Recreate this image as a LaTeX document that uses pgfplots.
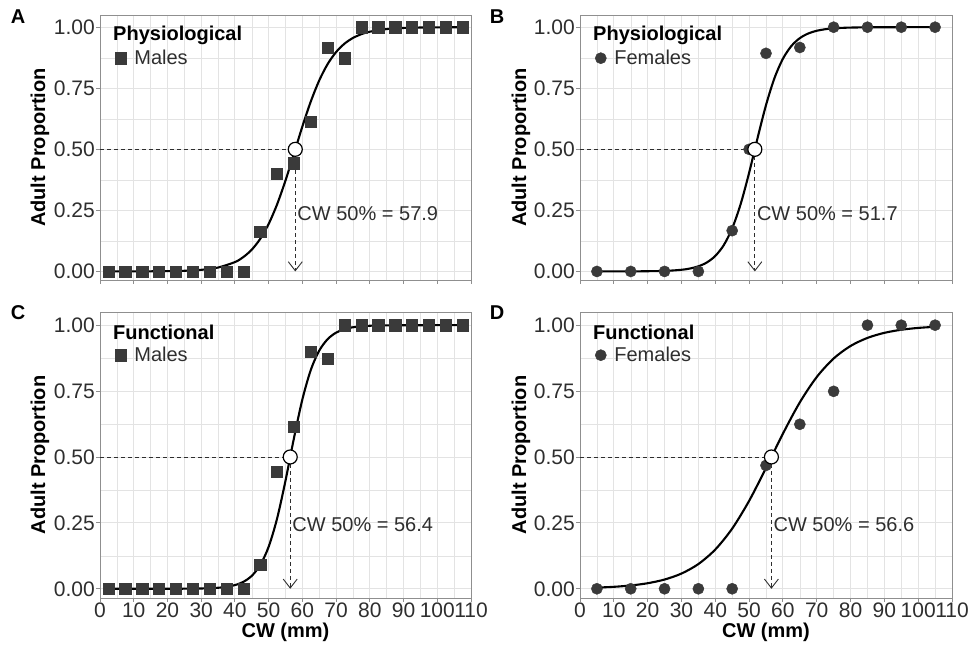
\documentclass[border=0pt]{standalone}
\usepackage{pgfplots}
\pgfplotsset{compat=1.18}
\usetikzlibrary{arrows.meta}
\usepackage{fontspec}
\setmainfont{Liberation Sans}
\definecolor{ptc}{HTML}{3A3A3A}
\definecolor{gridc}{HTML}{E3E3E3}
\definecolor{bordc}{HTML}{8F8F8F}
\definecolor{txtc}{HTML}{2E2E2E}
\newcommand{\tickfont}{\fontsize{21}{25}\selectfont}
\newcommand{\labfont}{\fontsize{20}{24}\selectfont}
\pgfplotsset{
  panel/.style={
    scale only axis, anchor=south west,
    xmin=0, xmax=110, ymin=-0.035, ymax=1.05,
    xtick={0,10,...,110}, ytick={0,0.25,0.5,0.75,1},
    yticklabels={0.00,0.25,0.50,0.75,1.00},
    minor xtick={5,15,...,105}, minor ytick={0.125,0.375,0.625,0.875},
    xmajorgrids, ymajorgrids, xminorgrids, yminorgrids,
    major grid style={gridc, line width=0.9pt},
    minor grid style={gridc, line width=0.45pt},
    axis line style={bordc, line width=0.9pt},
    major tick style={bordc, line width=0.9pt},
    minor tick length=0pt,
    tick align=outside, major tick length=4pt,
    xtick pos=left, ytick pos=left,
    ticklabel style={font=\tickfont, text=txtc, inner sep=1pt},
    legend style={draw=none, fill=none, font=\labfont, text=txtc,
      at={(axis description cs:0,1)}, anchor=north west,
      xshift=15pt, yshift=-33pt, inner sep=0pt, column sep=6pt},
    legend cell align=left,
  },
  noxlabels/.style={xticklabels={}},
  withxlabels/.style={xticklabels={0,10,20,30,40,50,60,70,80,90,100,110}},
  pts/.style={only marks, mark size=5.6pt, color=ptc, mark options={draw=ptc, fill=ptc}},
  fitc/.style={black, line width=2.1pt, smooth, no marks},
  refl/.style={txtc, line width=0.9pt, dash pattern=on 4pt off 3pt},
  refa/.style={txtc, line width=0.9pt, dash pattern=on 4pt off 3pt, -{Straight Barb[length=9pt, width=14pt, line width=0.9pt]}},
  cw/.style={only marks, mark=*, mark size=7pt, mark options={fill=white, draw=black, line width=1.2pt}},
}
\begin{document}
\begin{tikzpicture}
\useasboundingbox (0pt,0pt) rectangle (969pt,650pt);

% ---------- A ----------
\begin{axis}[panel, noxlabels, at={(100pt,370pt)}, width=371pt, height=265pt]
\addplot[pts, mark=square*] coordinates {
(2.5,0) (7.5,0) (12.5,0) (17.5,0) (22.5,0) (27.5,0) (32.5,0) (37.5,0) (42.5,0)
(47.5,0.164) (52.5,0.40) (57.5,0.443) (62.5,0.614) (67.5,0.917) (72.5,0.873)
(77.5,1) (82.5,1) (87.5,1) (92.5,1) (97.5,1) (102.5,1) (107.5,1)};
\addlegendentry{Males}
\addplot[fitc, forget plot] coordinates {
(2.5,0.00005) (10,0.0002) (20,0.0011) (25,0.0027) (30,0.0066) (35,0.016) (40,0.0383)
(42.5,0.0589) (45,0.0893) (47.5,0.1333) (50,0.1944) (52.5,0.2745) (55,0.3724) (57.5,0.482)
(60,0.5934) (62.5,0.6959) (65,0.7821) (67.5,0.8492) (70,0.8982) (72.5,0.9327) (75,0.956)
(77.5,0.9715) (80,0.9816) (85,0.9924) (90,0.9969) (95,0.9987) (100,0.9995) (107.5,0.9999)};
\addplot[refl, forget plot] coordinates {(0,0.5) (57.9,0.5)};
\addplot[refa, forget plot] coordinates {(57.9,0.5) (57.9,0)};
\addplot[cw, forget plot] coordinates {(57.9,0.5)};
\node[anchor=west, font=\bfseries\labfont, inner sep=0pt] at ([xshift=13pt, yshift=-20pt]axis description cs:0,1) {Physiological};
\node[anchor=west, font=\labfont, text=txtc, inner sep=2pt] at (axis cs:57.9,0.235) {CW 50\% = 57.9};
\end{axis}

% ---------- B ----------
\begin{axis}[panel, noxlabels, at={(580pt,370pt)}, width=372pt, height=265pt]
\addplot[pts, mark=*] coordinates {
(5,0) (15,0) (25,0) (35,0) (45,0.167) (50,0.5) (55,0.893) (65,0.917) (75,1) (85,1) (95,1) (105,1)};
\addlegendentry{Females}
\addplot[fitc, forget plot] coordinates {
(5,0.00002) (15,0.0002) (25,0.0022) (30,0.0068) (32.5,0.0119) (35,0.021) (37.5,0.0367) (40,0.0635)
(42.5,0.1075) (45,0.1764) (47.5,0.2757) (50,0.4035) (52.5,0.5459) (55,0.6811) (57.5,0.7915)
(60,0.8709) (62.5,0.923) (65,0.9552) (67.5,0.9743) (70,0.9854) (72.5,0.9917) (75,0.9953)
(80,0.9985) (90,0.9999) (105,1)};
\addplot[refl, forget plot] coordinates {(0,0.5) (51.7,0.5)};
\addplot[refa, forget plot] coordinates {(51.7,0.5) (51.7,0)};
\addplot[cw, forget plot] coordinates {(51.7,0.5)};
\node[anchor=west, font=\bfseries\labfont, inner sep=0pt] at ([xshift=13pt, yshift=-20pt]axis description cs:0,1) {Physiological};
\node[anchor=west, font=\labfont, text=txtc, inner sep=2pt] at (axis cs:51.7,0.235) {CW 50\% = 51.7};
\end{axis}

% ---------- C ----------
\begin{axis}[panel, withxlabels, at={(100pt,52pt)}, width=371pt, height=286pt]
\addplot[pts, mark=square*] coordinates {
(2.5,0) (7.5,0) (12.5,0) (17.5,0) (22.5,0) (27.5,0) (32.5,0) (37.5,0) (42.5,0)
(47.5,0.09) (52.5,0.443) (57.5,0.616) (62.5,0.90) (67.5,0.874)
(72.5,1) (77.5,1) (82.5,1) (87.5,1) (92.5,1) (97.5,1) (102.5,1) (107.5,1)};
\addlegendentry{Males}
\addplot[fitc, forget plot] coordinates {
(2.5,0) (20,0.0001) (25,0.0003) (30,0.001) (35,0.0038) (37.5,0.0073) (40,0.0139) (42.5,0.0262)
(45,0.0491) (47.5,0.09) (50,0.1592) (52.5,0.2662) (55,0.41) (57.5,0.571) (60,0.7183)
(62.5,0.8301) (65,0.9034) (67.5,0.9471) (70,0.9717) (72.5,0.985) (75,0.9921) (80,0.9978)
(85,0.9994) (90,0.9998) (107.5,1)};
\addplot[refl, forget plot] coordinates {(0,0.5) (56.4,0.5)};
\addplot[refa, forget plot] coordinates {(56.4,0.5) (56.4,0)};
\addplot[cw, forget plot] coordinates {(56.4,0.5)};
\node[anchor=west, font=\bfseries\labfont, inner sep=0pt] at ([xshift=13pt, yshift=-20pt]axis description cs:0,1) {Functional};
\node[anchor=west, font=\labfont, text=txtc, inner sep=2pt] at (axis cs:56.4,0.245) {CW 50\% = 56.4};
\end{axis}

% ---------- D ----------
\begin{axis}[panel, withxlabels, at={(580pt,52pt)}, width=372pt, height=286pt]
\addplot[pts, mark=*] coordinates {
(5,0) (15,0) (25,0) (35,0) (45,0) (55,0.468) (65,0.624) (75,0.749) (85,1) (95,1) (105,1)};
\addlegendentry{Females}
\addplot[fitc, forget plot] coordinates {
(5,0.0044) (10,0.0074) (15,0.0125) (20,0.021) (25,0.035) (30,0.0577) (35,0.0938) (40,0.1489)
(45,0.2283) (50,0.3334) (55,0.4581) (60,0.5884) (65,0.7072) (70,0.8033) (75,0.8735)
(80,0.9211) (85,0.9517) (90,0.9709) (95,0.9826) (100,0.9896) (105,0.9938)};
\addplot[refl, forget plot] coordinates {(0,0.5) (56.6,0.5)};
\addplot[refa, forget plot] coordinates {(56.6,0.5) (56.6,0)};
\addplot[cw, forget plot] coordinates {(56.6,0.5)};
\node[anchor=west, font=\bfseries\labfont, inner sep=0pt] at ([xshift=13pt, yshift=-20pt]axis description cs:0,1) {Functional};
\node[anchor=west, font=\labfont, text=txtc, inner sep=2pt] at (axis cs:56.6,0.245) {CW 50\% = 56.6};
\end{axis}

% ---------- outer labels ----------
\node[rotate=90, font=\bfseries\labfont] at (40pt,502.5pt) {Adult Proportion};
\node[rotate=90, font=\bfseries\labfont] at (521pt,502.5pt) {Adult Proportion};
\node[rotate=90, font=\bfseries\labfont] at (40pt,195pt) {Adult Proportion};
\node[rotate=90, font=\bfseries\labfont] at (521pt,195pt) {Adult Proportion};
\node[font=\bfseries\labfont] at (285.5pt,18pt) {CW (mm)};
\node[font=\bfseries\labfont] at (766pt,18pt) {CW (mm)};
\node[font=\bfseries\labfont] at (18pt,633pt) {A};
\node[font=\bfseries\labfont] at (497pt,633pt) {B};
\node[font=\bfseries\labfont] at (18pt,337pt) {C};
\node[font=\bfseries\labfont] at (497pt,337pt) {D};
\end{tikzpicture}
\end{document}
